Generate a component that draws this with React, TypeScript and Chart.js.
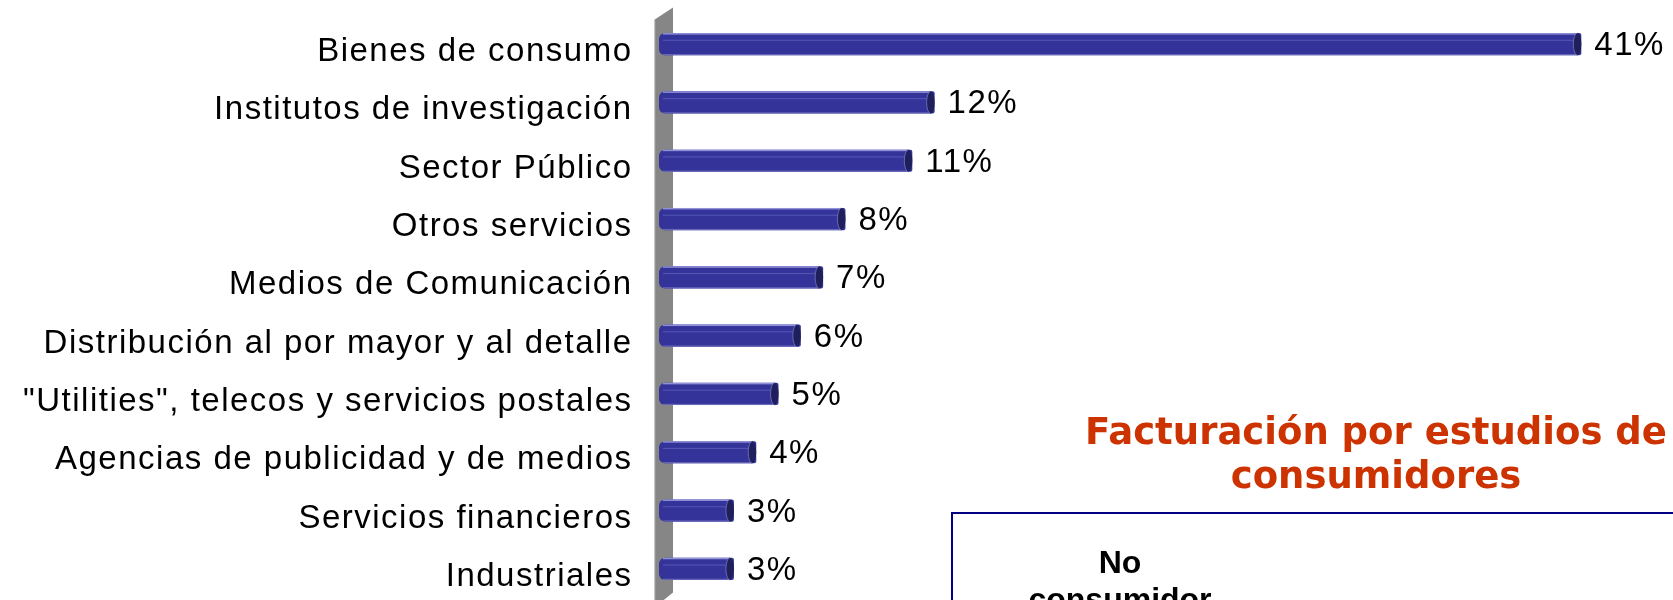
import React, { useEffect, useRef } from "react";
import { Chart, registerables } from "chart.js";

Chart.register(...registerables);

const categories = [
  "Bienes de consumo",
  "Institutos de investigación",
  "Sector Público",
  "Otros servicios",
  "Medios de Comunicación",
  "Distribución al por mayor y al detalle",
  "\"Utilities\", telecos y servicios postales",
  "Agencias de publicidad y de medios",
  "Servicios financieros",
  "Industriales",
];
const values = [41, 12, 11, 8, 7, 6, 5, 4, 3, 3];
const valueLabels = ["41%", "12%", "11%", "8%", "7%", "6%", "5%", "4%", "3%", "3%"];
const titleLines = ["Facturación por estudios de", "consumidores"];
const boxLines = ["No", "consumidor"];

const BAR_BASE = -0.36;
const X_MAX = 45;
const LABEL_FONT = '33px "Liberation Sans", Arial, sans-serif';
const SPACING = 1.5;

const decorPlugin = {
  id: "decor",
  beforeDatasetsDraw(chart: any) {
    const { ctx, chartArea } = chart;
    const l = chartArea.left;
    ctx.save();
    ctx.beginPath();
    ctx.moveTo(l - 5, chartArea.top + 5);
    ctx.lineTo(l + 14, chartArea.top - 7.5);
    ctx.lineTo(l + 14, chartArea.bottom - 5.5);
    ctx.lineTo(l - 5, chartArea.bottom + 10);
    ctx.closePath();
    ctx.fillStyle = "#868686";
    ctx.fill();
    ctx.fillStyle = "#c6c6c6";
    ctx.fillRect(l - 5, chartArea.top + 5, 1.2, chartArea.bottom - chartArea.top + 10);
    ctx.restore();
  },
  afterDatasetsDraw(chart: any) {
    const { ctx, chartArea } = chart;
    const meta = chart.getDatasetMeta(0);
    ctx.save();
    meta.data.forEach((bar: any, i: number) => {
      const { x, y, base, height } = bar.getProps(["x", "y", "base", "height"], true);
      const top = y - height / 2;
      const bot = y + height / 2;
      const w = x - base - 8;
      ctx.fillStyle = "rgba(150,150,220,0.95)";
      ctx.fillRect(base + 4, top, w, 1.5);
      ctx.fillStyle = "rgba(85,85,180,0.9)";
      ctx.fillRect(base + 4, top + height * 0.3, w, 1.2);
      ctx.fillStyle = "rgba(110,110,190,0.9)";
      ctx.fillRect(base + 4, bot - 1.2, w, 1.2);
      // end cap
      ctx.beginPath();
      ctx.ellipse(x - 4, y, 4, height / 2, 0, 0, Math.PI * 2);
      ctx.fillStyle = "#1f1f5c";
      ctx.fill();
      ctx.strokeStyle = "rgba(120,120,190,0.8)";
      ctx.lineWidth = 1;
      ctx.beginPath();
      ctx.ellipse(x - 4, y, 4, height / 2, 0, Math.PI / 2, (Math.PI * 3) / 2);
      ctx.stroke();

      ctx.font = LABEL_FONT;
      (ctx as any).letterSpacing = SPACING + "px";
      ctx.fillStyle = "#000000";
      ctx.textBaseline = "alphabetic";
      ctx.textAlign = "left";
      ctx.fillText(valueLabels[i], x + 13, y + 11);

      ctx.textAlign = "right";
      ctx.fillText(categories[i], chartArea.left - 28 + SPACING, y + 17);
    });
    ctx.restore();
  },
};

export default function App() {
  const canvasRef = useRef<HTMLCanvasElement | null>(null);

  useEffect(() => {
    if (!canvasRef.current) return;
    const chart = new Chart(canvasRef.current, {
      type: "bar",
      data: {
        labels: categories,
        datasets: [
          {
            data: values,
            base: BAR_BASE,
            backgroundColor: "#333399",
            borderWidth: 0,
            borderSkipped: false,
            borderRadius: { topLeft: 6, bottomLeft: 6, topRight: 2, bottomRight: 2 },
            categoryPercentage: 1,
            barPercentage: 0.38,
          } as any,
        ],
      },
      options: {
        indexAxis: "y",
        responsive: false,
        maintainAspectRatio: false,
        animation: false,
        layout: { padding: { left: 659, right: 2.5, top: 15, bottom: 2 } },
        scales: {
          x: { display: false, min: BAR_BASE, max: X_MAX },
          y: { display: false },
        },
        plugins: {
          legend: { display: false },
          tooltip: { enabled: false },
          title: { display: false },
        },
      },
      plugins: [decorPlugin],
    });
    return () => chart.destroy();
  }, []);

  return (
    <div
      style={{
        position: "fixed",
        left: 0,
        top: 0,
        width: 1673,
        height: 600,
        overflow: "hidden",
        background: "#ffffff",
      }}
    >
      <canvas
        ref={canvasRef}
        width={1673}
        height={600}
        style={{ position: "absolute", left: 0, top: 0, width: 1673, height: 600 }}
      />
      <div
        style={{
          position: "absolute",
          left: 976,
          top: 410,
          width: 800,
          textAlign: "center",
          fontFamily: '"DejaVu Sans", Verdana, sans-serif',
          fontWeight: "bold",
          fontSize: 37,
          lineHeight: "44px",
          color: "#CC3300",
          whiteSpace: "nowrap",
        }}
      >
        {titleLines.map((t, i) => (
          <div key={i}>{t}</div>
        ))}
      </div>
      <div
        style={{
          position: "absolute",
          left: 951,
          top: 512,
          width: 900,
          height: 300,
          borderTop: "2px solid #000080",
          borderLeft: "2px solid #000080",
        }}
      />
      <div
        style={{
          position: "absolute",
          left: 970,
          top: 544,
          width: 300,
          textAlign: "center",
          fontFamily: '"Liberation Sans", Arial, sans-serif',
          fontWeight: "bold",
          fontSize: 32,
          lineHeight: "37px",
          color: "#000000",
        }}
      >
        {boxLines.map((t, i) => (
          <div key={i}>{t}</div>
        ))}
      </div>
    </div>
  );
}
